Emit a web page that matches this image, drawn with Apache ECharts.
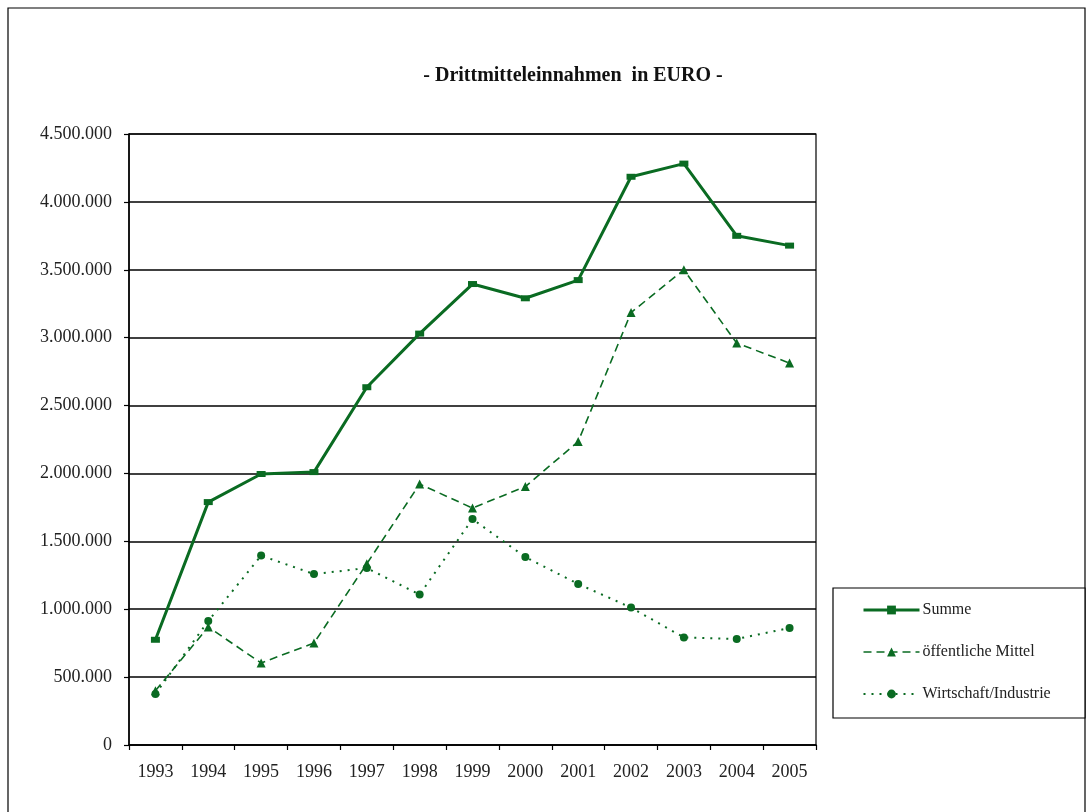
<!DOCTYPE html>
<html>
<head>
<meta charset="utf-8">
<script src="https://cdn.jsdelivr.net/npm/echarts@6/dist/echarts.min.js"></script>
<style>
  html, body { margin: 0; padding: 0; background: #fff; }
  #chart { width: 1087px; height: 812px; }
</style>
</head>
<body>
<div id="chart"></div>
<script>
// Third-party funding income, 1993–2005 (EUR)
const years = ['1993','1994','1995','1996','1997','1998','1999','2000','2001','2002','2003','2004','2005'];
const summe = [775000, 1789000, 1996000, 2010000, 2635000, 3030000, 3395000, 3290000, 3424000, 4185000, 4282000, 3750000, 3678000];
const oeffentlich = [400000, 869000, 604000, 751000, 1335000, 1922000, 1745000, 1903000, 2235000, 3185000, 3500000, 2960000, 2813000];
const wirtschaft = [376000, 913000, 1395000, 1259000, 1303000, 1108000, 1664000, 1384000, 1186000, 1012000, 792000, 781000, 862000];
const seriesNames = ['Summe', 'öffentliche Mittel', 'Wirtschaft/Industrie'];

const green = '#0a6b22';
const serif = '"Liberation Serif", "DejaVu Serif", serif';

function dotted(v) {
  return String(v).replace(/\B(?=(\d{3})+(?!\d))/g, '.');
}

const chart = echarts.init(document.getElementById('chart'), null, { renderer: 'canvas' });

chart.setOption({
  backgroundColor: '#fff',
  animation: false,
  title: {
    text: '- Drittmitteleinnahmen  in EURO -',
    left: 568,
    textAlign: 'center',
    top: 61,
    textStyle: { fontFamily: serif, fontSize: 20, fontWeight: 'bold', color: '#111' }
  },
  graphic: [
    {
      type: 'rect',
      shape: { x: 8, y: 8, width: 1077, height: 810 },
      style: { fill: 'none', stroke: '#000', lineWidth: 1.2 }, silent: true
    },
    {
      type: 'rect',
      shape: { x: 833, y: 588, width: 252, height: 130 },
      style: { fill: '#fff', stroke: '#000', lineWidth: 1.2 }, silent: true, z: 5
    }
  ],
  legend: {
    orient: 'vertical',
    left: 862,
    top: 602,
    itemWidth: 56,
    itemHeight: 11,
    itemGap: 26,
    padding: 0,
    z: 10,
    data: [
      { name: seriesNames[0], lineStyle: { width: 3 } },
      { name: seriesNames[1], lineStyle: { width: 1.6 } },
      { name: seriesNames[2], lineStyle: { width: 2 } }
    ],
    textStyle: { fontFamily: serif, fontSize: 16, color: '#222', padding: [0, 0, 0, -2] }
  },
  grid: {
    left: 129, right: 271, top: 134, bottom: 67,
    show: true, borderColor: '#000', borderWidth: 1.2,
    containLabel: false
  },
  xAxis: {
    type: 'category',
    data: years,
    boundaryGap: true,
    axisLine: { lineStyle: { color: '#000', width: 1.5 } },
    axisTick: { show: true, length: 5, interval: 0, lineStyle: { color: '#000', width: 1.2 } },
    axisLabel: { fontFamily: serif, fontSize: 18, color: '#222', margin: 18, interval: 0 },
    splitLine: { show: false }
  },
  yAxis: {
    type: 'value',
    min: 0, max: 4500000, interval: 500000,
    axisLine: { show: true, lineStyle: { color: '#000', width: 1.5 } },
    axisTick: { show: true, length: 5, lineStyle: { color: '#000', width: 1.2 } },
    axisLabel: { fontFamily: serif, fontSize: 18, color: '#222', margin: 17, formatter: dotted },
    splitLine: { show: true, lineStyle: { color: '#000', width: 1.5 } }
  },
  series: [
    {
      name: seriesNames[0], type: 'line', data: summe,
      symbol: 'rect', symbolSize: [9, 6],
      itemStyle: { color: green },
      lineStyle: { color: green, width: 3 },
      z: 4
    },
    {
      name: seriesNames[1], type: 'line', data: oeffentlich,
      symbol: 'triangle', symbolSize: 9,
      itemStyle: { color: green },
      lineStyle: { color: green, width: 1.6, type: [8, 5] },
      z: 3
    },
    {
      name: seriesNames[2], type: 'line', data: wirtschaft,
      symbol: 'circle', symbolSize: 8,
      itemStyle: { color: green },
      lineStyle: { color: green, width: 2, type: [2, 6] },
      z: 3
    }
  ]
});
</script>
</body>
</html>
